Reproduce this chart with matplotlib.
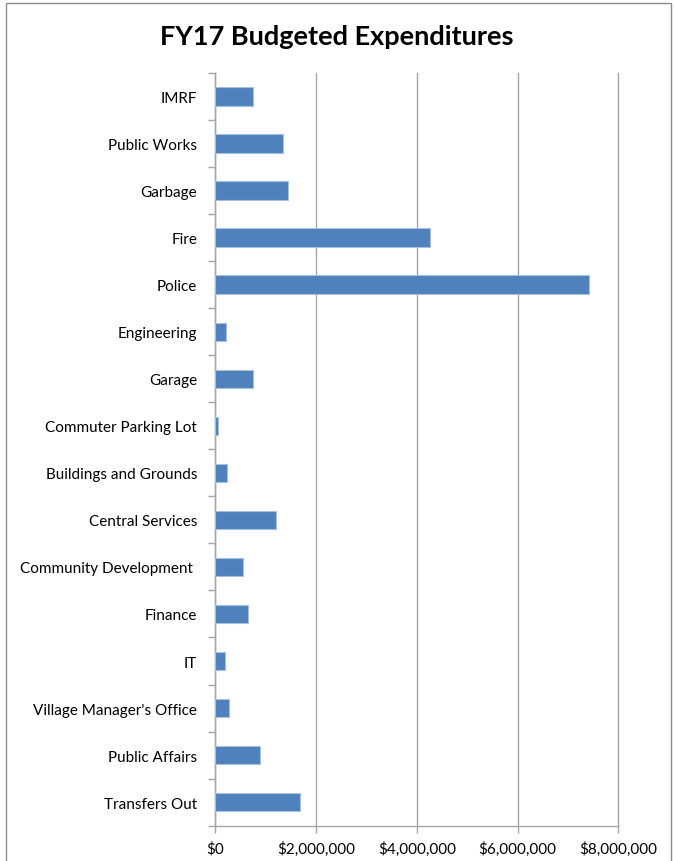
import matplotlib.pyplot as plt
from matplotlib.patches import Rectangle
from matplotlib.ticker import FuncFormatter, FixedLocator
import numpy as np

# FY17 budgeted expenditures by department (dollars)
departments = ["IMRF", "Public Works", "Garbage", "Fire", "Police", "Engineering",
               "Garage", "Commuter Parking Lot", "Buildings and Grounds",
               "Central Services", "Community Development ", "Finance", "IT",
               "Village Manager's Office", "Public Affairs", "Transfers Out"]
amounts = [750000, 1340000, 1440000, 4260000, 7410000, 210000,
           750000, 50000, 225000, 1210000, 560000, 650000, 200000,
           280000, 880000, 1680000]
x_ticks = [0, 2000000, 4000000, 6000000, 8000000]

plt.rcParams['font.family'] = ['Lato', 'DejaVu Sans']

fig = plt.figure(figsize=(6.74, 8.62), dpi=100)
ax = fig.add_axes([0.3194, 0.0410, 0.598, 0.8732])

# first department at the top
y = np.arange(len(departments))[::-1]
ax.barh(y, amounts, height=0.39, color='#4F81BD', edgecolor='#A7C0DE',
        linewidth=0.8, zorder=3)

ax.set_xlim(0, 8000000)
ax.set_ylim(-0.5, len(departments) - 0.5)

ax.set_xticks(x_ticks)
ax.xaxis.set_major_formatter(FuncFormatter(lambda v, p: f"${v:,.0f}"))
ax.grid(axis='x', color='#A6A6A6', linewidth=1.0, zorder=0)
for gl in ax.get_xgridlines():
    gl.set_clip_on(False)

ax.set_yticks(y)
ax.set_yticklabels(departments)
ax.yaxis.set_minor_locator(FixedLocator(np.arange(-0.5, len(departments), 1.0)))
ax.tick_params(axis='y', which='major', length=0, pad=13, labelsize=11,
               colors='black')
ax.tick_params(axis='y', which='minor', length=5, width=1.0, color='#A6A6A6')
ax.tick_params(axis='x', length=5, width=1.0, color='#A6A6A6', pad=6,
               labelsize=11)

for side in ['top', 'right']:
    ax.spines[side].set_visible(False)
for side in ['left', 'bottom']:
    ax.spines[side].set_color('#A6A6A6')
    ax.spines[side].set_linewidth(1.0)

fig.text(0.5, 0.957, "FY17 Budgeted Expenditures", ha='center', va='center',
         fontsize=19.5, fontweight='bold')

# chart frame
fig.add_artist(Rectangle((0.009, -0.01), 0.987, 1.005, transform=fig.transFigure,
                         fill=False, edgecolor='#8C8C8C', linewidth=1.0))

fig.savefig("out.png", dpi=100)
